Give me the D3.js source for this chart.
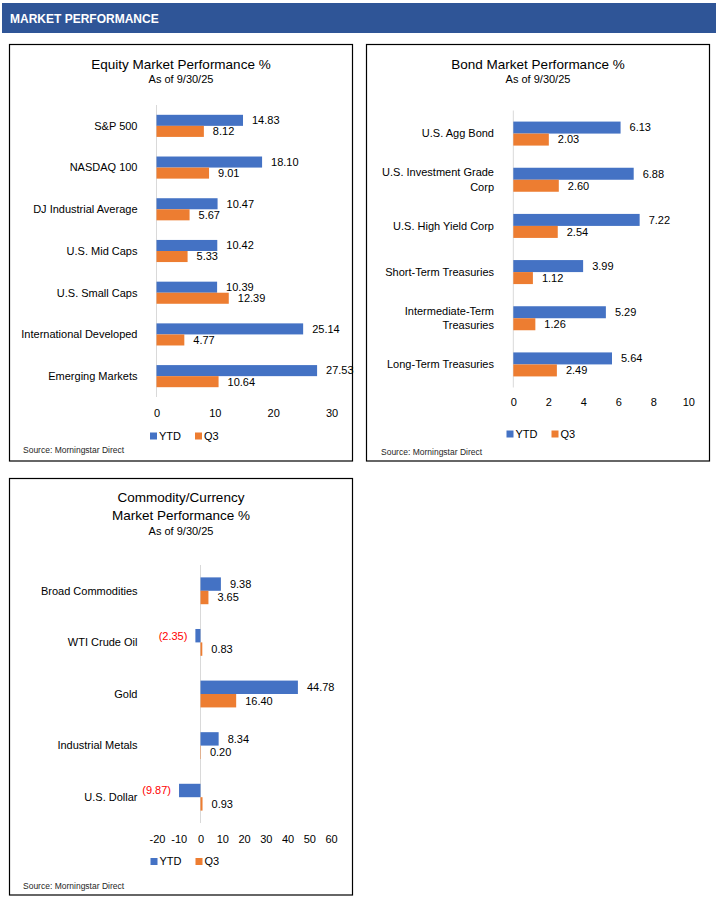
<!DOCTYPE html>
<html><head><meta charset="utf-8">
<script src="https://cdn.jsdelivr.net/npm/d3@7"></script>
<style>body{margin:0;background:#fff}svg{display:block;font-family:"Liberation Sans",Arial,sans-serif}</style>
</head><body><svg id="c" width="720" height="900"></svg>
<script>
const seriesNames = ["YTD", "Q3"];
const seriesColors = ["#4472C4", "#ED7D31"];

const equityCategories = ["S&P 500", "NASDAQ 100", "DJ Industrial Average", "U.S. Mid Caps", "U.S. Small Caps", "International Developed", "Emerging Markets"];
const equityYTD = [14.83, 18.10, 10.47, 10.42, 10.39, 25.14, 27.53];
const equityQ3 = [8.12, 9.01, 5.67, 5.33, 12.39, 4.77, 10.64];
const equityTicks = [0, 10, 20, 30];

const bondCategories = ["U.S. Agg Bond", "U.S. Investment Grade\nCorp", "U.S. High Yield Corp", "Short-Term Treasuries", "Intermediate-Term\nTreasuries", "Long-Term Treasuries"];
const bondYTD = [6.13, 6.88, 7.22, 3.99, 5.29, 5.64];
const bondQ3 = [2.03, 2.60, 2.54, 1.12, 1.26, 2.49];
const bondTicks = [0, 2, 4, 6, 8, 10];

const commodityCategories = ["Broad Commodities", "WTI Crude Oil", "Gold", "Industrial Metals", "U.S. Dollar"];
const commodityYTD = [9.38, -2.35, 44.78, 8.34, -9.87];
const commodityQ3 = [3.65, 0.83, 16.40, 0.20, 0.93];
const commodityTicks = [-20, -10, 0, 10, 20, 30, 40, 50, 60];

const headerText = "MARKET PERFORMANCE";
const sourceText = "Source: Morningstar Direct";

const svg = d3.select("#c");

// header
svg.append("rect").attr("x", 2).attr("y", 3).attr("width", 714).attr("height", 30).attr("fill", "#2F5597");
svg.append("text").attr("x", 10).attr("y", 23).attr("fill", "#fff")
  .attr("font-size", 12).attr("font-weight", "bold").text(headerText);

const fmt = d3.format(".2f");

function drawPanel(cfg) {
  const g = svg.append("g");
  g.append("rect").attr("x", cfg.box[0]).attr("y", cfg.box[1])
    .attr("width", cfg.box[2] - cfg.box[0]).attr("height", cfg.box[3] - cfg.box[1])
    .attr("fill", "#fff").attr("stroke", "#000").attr("stroke-width", 1.2);

  cfg.titles.forEach(t => {
    g.append("text").attr("x", cfg.titleX).attr("y", t.y).attr("dy", "0.35em")
      .attr("text-anchor", "middle").attr("font-size", t.size).attr("fill", "#000").text(t.text);
  });

  const x = d3.scaleLinear().domain(cfg.domain).range(cfg.xRange);
  const y = d3.scaleBand().domain(cfg.categories).range(cfg.yRange)
    .paddingInner(cfg.pad).paddingOuter(cfg.pad / 2);
  const ySub = d3.scaleBand().domain(seriesNames).range([0, y.bandwidth()]);

  // zero axis line
  g.append("line").attr("x1", x(0)).attr("x2", x(0))
    .attr("y1", cfg.yRange[0]).attr("y2", cfg.yRange[1])
    .attr("stroke", "#D9D9D9").attr("stroke-width", 1);

  // category labels
  cfg.categories.forEach(c => {
    const lines = c.split("\n");
    const cy = y(c) + y.bandwidth() / 2;
    lines.forEach((ln, i) => {
      g.append("text").attr("x", cfg.labelX)
        .attr("y", cy + (i - (lines.length - 1) / 2) * 14.5).attr("dy", "0.35em")
        .attr("text-anchor", "end").attr("font-size", 11).attr("fill", "#000").text(ln);
    });
  });

  const series = [cfg.ytd, cfg.q3];
  series.forEach((vals, si) => {
    const rows = cfg.categories.map((c, i) => ({ c, v: vals[i] }));
    g.selectAll(null).data(rows).enter().append("rect")
      .attr("x", d => x(Math.min(0, d.v)))
      .attr("width", d => Math.abs(x(d.v) - x(0)))
      .attr("y", d => y(d.c) + ySub(seriesNames[si]))
      .attr("height", ySub.bandwidth())
      .attr("fill", seriesColors[si]);
    g.selectAll(null).data(rows).enter().append("text")
      .attr("x", d => d.v < 0 ? x(d.v) - 8 : x(d.v) + 9)
      .attr("y", d => y(d.c) + ySub(seriesNames[si]) + ySub.bandwidth() / 2)
      .attr("dy", "0.35em")
      .attr("text-anchor", d => d.v < 0 ? "end" : "start")
      .attr("font-size", 11)
      .attr("fill", d => d.v < 0 ? "#FF0000" : "#000")
      .text(d => d.v < 0 ? "(" + fmt(-d.v) + ")" : fmt(d.v));
  });

  // x axis ticks
  const ax = g.append("g").attr("transform", `translate(0,${cfg.tickY})`)
    .call(d3.axisBottom(x).tickValues(cfg.ticks).tickSize(0).tickPadding(0).tickFormat(d => String(d)));
  ax.select(".domain").remove();
  ax.selectAll("text").attr("y", 0).attr("dy", "0.35em")
    .attr("font-size", 11).attr("fill", "#000").attr("font-family", "Liberation Sans, Arial, sans-serif");

  // legend
  seriesNames.forEach((s, i) => {
    const lx = cfg.legendX + i * 45;
    g.append("rect").attr("x", lx).attr("y", cfg.legendY - 3.5).attr("width", 7).attr("height", 7)
      .attr("fill", seriesColors[i]);
    g.append("text").attr("x", lx + 9).attr("y", cfg.legendY).attr("dy", "0.35em")
      .attr("font-size", 11).attr("fill", "#000").text(s);
  });

  g.append("text").attr("x", cfg.sourceX).attr("y", cfg.sourceY).attr("dy", "0.35em")
    .attr("font-size", 8.5).attr("fill", "#262626").text(sourceText);
}

drawPanel({
  box: [9.5, 44.5, 352.5, 461],
  titleX: 181,
  titles: [{ text: "Equity Market Performance %", y: 64, size: 13.5 }, { text: "As of 9/30/25", y: 79, size: 11 }],
  categories: equityCategories, ytd: equityYTD, q3: equityQ3, ticks: equityTicks,
  domain: [0, 30], xRange: [156.5, 331.5], yRange: [105, 397], pad: 0.47,
  labelX: 137.5, tickY: 413, legendX: 150, legendY: 436, sourceX: 23, sourceY: 450
});

drawPanel({
  box: [366.5, 44.5, 709.5, 461],
  titleX: 538,
  titles: [{ text: "Bond Market Performance %", y: 64, size: 13.5 }, { text: "As of 9/30/25", y: 79, size: 11 }],
  categories: bondCategories, ytd: bondYTD, q3: bondQ3, ticks: bondTicks,
  domain: [0, 10], xRange: [513.3, 688.3], yRange: [110.5, 387.5], pad: 0.48,
  labelX: 494, tickY: 402, legendX: 506.5, legendY: 434, sourceX: 381, sourceY: 452
});

drawPanel({
  box: [9.5, 478.5, 352.5, 895],
  titleX: 181,
  titles: [{ text: "Commodity/Currency", y: 497.5, size: 13.5 }, { text: "Market Performance %", y: 515.5, size: 13.5 }, { text: "As of 9/30/25", y: 531, size: 11 }],
  categories: commodityCategories, ytd: commodityYTD, q3: commodityQ3, ticks: commodityTicks,
  domain: [-20, 60], xRange: [157, 331], yRange: [565, 823], pad: 0.48,
  labelX: 137.5, tickY: 839, legendX: 150.5, legendY: 861.5, sourceX: 23, sourceY: 886
});
</script></body></html>
